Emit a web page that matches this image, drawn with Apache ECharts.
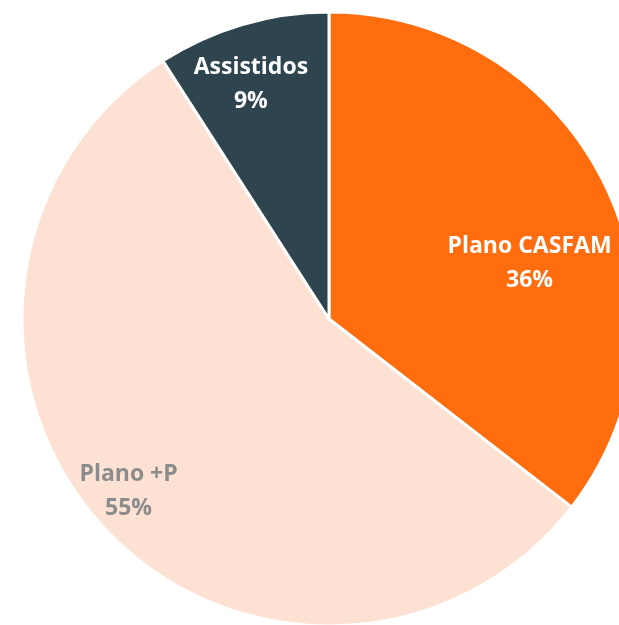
<!DOCTYPE html>
<html>
<head>
<meta charset="utf-8">
<script src="https://cdn.jsdelivr.net/npm/echarts@6/dist/echarts.min.js"></script>
<style>
html,body{margin:0;padding:0;background:#fff;}
#chart{width:619px;height:625px;}
</style>
</head>
<body>
<div id="chart"></div>
<script>
// Data
const categories = ['Plano CASFAM', 'Plano +P', 'Assistidos'];
const values = [35.5, 55.4, 9.1];

// Styles
const sliceColors = ['#FF6D0E', '#FDE2D3', '#2E444E'];
const labelColors = ['#FFFFFF', '#8C8C8C', '#FFFFFF'];
const labelShift = [[60, 13], [-85, 67], [-34, -84]];

const chart = echarts.init(document.getElementById('chart'));
chart.setOption({
  animation: false,
  series: [{
    type: 'pie',
    center: [329, 319],
    radius: 307,
    startAngle: 90,
    clockwise: true,
    percentPrecision: 0,
    silent: true,
    itemStyle: { borderColor: '#FFFFFF', borderWidth: 3 },
    label: {
      show: true,
      position: 'inside',
      formatter: '{b}\n{d}%',
      fontFamily: 'Open Sans',
      fontWeight: 'bold',
      fontSize: 23,
      lineHeight: 34
    },
    labelLine: { show: false },
    labelLayout: function (p) {
      const s = labelShift[p.dataIndex];
      return { dx: s[0], dy: s[1] };
    },
    data: categories.map((c, i) => ({
      name: c,
      value: values[i],
      itemStyle: { color: sliceColors[i] },
      label: { color: labelColors[i] }
    }))
  }]
});
</script>
</body>
</html>
